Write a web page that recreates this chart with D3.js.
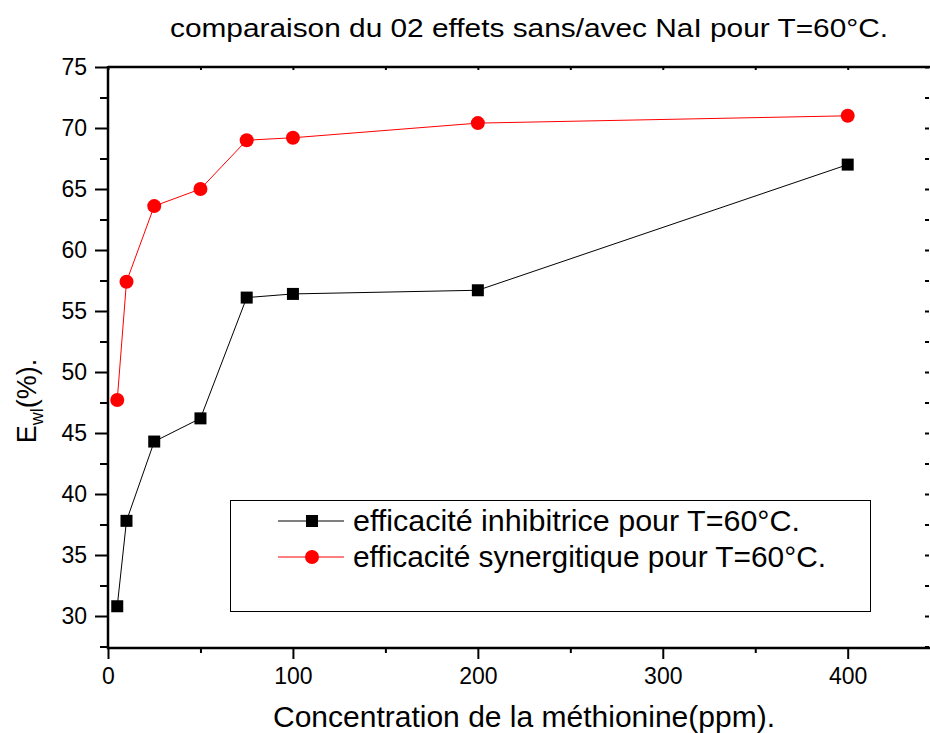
<!DOCTYPE html>
<html>
<head>
<meta charset="utf-8">
<script src="https://cdn.jsdelivr.net/npm/d3@7"></script>
<style>
body { margin: 0; background: #fff; }
text { font-family: "Liberation Sans", Arial, sans-serif; fill: #000; }
</style>
</head>
<body>
<svg class="chart"></svg>
<script>
let width = 930,
  height = 733;

// data
let conc = [5, 10, 25, 50, 75, 100, 200, 400];
let inhib = [30.8, 37.8, 44.3, 46.2, 56.1, 56.4, 56.7, 67.0];
let synerg = [47.7, 57.4, 63.6, 65.0, 69.0, 69.2, 70.4, 71.0];
let xTicks = [0, 100, 200, 300, 400];
let yTicks = [30, 35, 40, 45, 50, 55, 60, 65, 70, 75];
let seriesNames = [
  "efficacité inhibitrice pour T=60°C.",
  "efficacité synergitique pour T=60°C.",
];

let svg = d3.select(".chart").attr("width", width).attr("height", height);

let mLeft = 108,
  mRight = 930,
  mTop = 67,
  mBottom = 647;

let x = d3.scaleLinear().domain([0, 444.5]).range([mLeft, mRight]);
let y = d3.scaleLinear().domain([27.46, 75]).range([mBottom, mTop]);

// title (stretched a bit like the original)
svg
  .append("text")
  .attr("x", 170)
  .attr("y", 37)
  .attr("textLength", 718)
  .attr("lengthAdjust", "spacingAndGlyphs")
  .style("font-size", "26px")
  .text("comparaison du 02 effets sans/avec NaI pour T=60°C.");

// minor ticks
let xMinor = d3.range(50, 444, 100);
let yMinor = d3.range(27.5, 75, 5);

let gx = svg.append("g").attr("transform", `translate(0,${mBottom})`);
gx.call(d3.axisBottom(x).tickValues(xMinor).tickSize(6).tickFormat(""));
gx.append("g").call(
  d3.axisBottom(x).tickValues(xTicks).tickSize(12).tickPadding(9).tickFormat(d3.format("d"))
);
gx.selectAll(".domain").remove();
gx.selectAll("text").style("font-size", "23px");

let gy = svg.append("g").attr("transform", `translate(${mLeft},0)`);
gy.call(d3.axisLeft(y).tickValues(yMinor).tickSize(8).tickFormat(""));
gy.append("g").call(
  d3.axisLeft(y).tickValues(yTicks).tickSize(13).tickPadding(8).tickFormat(d3.format("d"))
);
gy.selectAll(".domain").remove();
gy.selectAll("text").style("font-size", "23px");

// top and right axes, ticks inward
let gt = svg.append("g").attr("transform", `translate(0,${mTop})`);
gt.call(d3.axisBottom(x).tickValues(xTicks.concat(xMinor)).tickSize(3).tickFormat(""));
gt.selectAll(".domain").remove();
let gr = svg.append("g").attr("transform", `translate(${mRight - 1},0)`);
gr.call(d3.axisLeft(y).tickValues(yTicks.concat(yMinor)).tickSize(4).tickFormat(""));
gr.selectAll(".domain").remove();
svg.selectAll(".tick line").attr("stroke", "#000").attr("stroke-width", 2);

// frame
svg
  .append("path")
  .attr("d", `M${mLeft},${mTop}H${mRight}M${mLeft},${mTop - 1}V${mBottom + 1}H${mRight}`)
  .attr("fill", "none")
  .attr("stroke", "#000")
  .attr("stroke-width", 2.5);

// axis labels
svg
  .append("text")
  .attr("x", 273)
  .attr("y", 727)
  .attr("textLength", 502)
  .attr("lengthAdjust", "spacingAndGlyphs")
  .style("font-size", "30px")
  .text("Concentration de la méthionine(ppm).");

let yl = svg
  .append("text")
  .attr("transform", "translate(36,401) rotate(-90)")
  .attr("text-anchor", "middle")
  .style("font-size", "27px");
yl.append("tspan").text("E");
yl.append("tspan").attr("dy", 7).style("font-size", "18px").text("wl");
yl.append("tspan").attr("dy", -7).text("(%).");

// lines and markers
let line = d3
  .line()
  .x((d) => x(d[0]))
  .y((d) => y(d[1]));

let inhibPts = conc.map((c, i) => [c, inhib[i]]);
let synPts = conc.map((c, i) => [c, synerg[i]]);

svg
  .append("path")
  .attr("d", line(inhibPts))
  .attr("fill", "none")
  .attr("stroke", "#000")
  .attr("stroke-width", 1);
svg
  .append("path")
  .attr("d", line(synPts))
  .attr("fill", "none")
  .attr("stroke", "#ff0000")
  .attr("stroke-width", 1);

svg
  .append("g")
  .selectAll("rect")
  .data(inhibPts)
  .enter()
  .append("rect")
  .attr("x", (d) => x(d[0]) - 6)
  .attr("y", (d) => y(d[1]) - 6)
  .attr("width", 12)
  .attr("height", 12)
  .attr("fill", "#000");

svg
  .append("g")
  .selectAll("circle")
  .data(synPts)
  .enter()
  .append("circle")
  .attr("cx", (d) => x(d[0]))
  .attr("cy", (d) => y(d[1]))
  .attr("r", 7)
  .attr("fill", "#ff0000");

// legend
let lg = svg.append("g");
lg.append("rect")
  .attr("x", 230.5)
  .attr("y", 500.5)
  .attr("width", 640)
  .attr("height", 111)
  .attr("fill", "#fff")
  .attr("stroke", "#000")
  .attr("stroke-width", 1);

let rows = [
  { name: seriesNames[0], color: "#000", y: 521, len: 447 },
  { name: seriesNames[1], color: "#ff0000", y: 557, len: 473 },
];
rows.forEach((r, i) => {
  lg.append("line")
    .attr("x1", 278)
    .attr("x2", 344)
    .attr("y1", r.y)
    .attr("y2", r.y)
    .attr("stroke", r.color)
    .attr("stroke-width", 1);
  if (i == 0) {
    lg.append("rect")
      .attr("x", 306)
      .attr("y", r.y - 6)
      .attr("width", 12)
      .attr("height", 12)
      .attr("fill", r.color);
  } else {
    lg.append("circle").attr("cx", 312).attr("cy", r.y).attr("r", 7).attr("fill", r.color);
  }
  lg.append("text")
    .attr("x", 353)
    .attr("y", r.y + 10)
    .attr("textLength", r.len)
    .attr("lengthAdjust", "spacingAndGlyphs")
    .style("font-size", "29px")
    .text(r.name);
});
</script>
</body>
</html>
